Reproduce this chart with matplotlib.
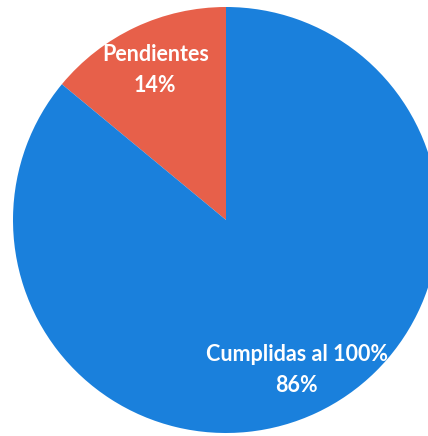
import matplotlib.pyplot as plt

# datos del grafico
categorias = ["Pendientes", "Cumplidas al 100%"]
porcentajes = [14, 86]
colores = ["#E7604A", "#1A80DC"]

etiquetas = [c + "\n" + str(p) + "%" for c, p in zip(categorias, porcentajes)]

fig = plt.figure(figsize=(4.28, 4.36), dpi=100)
ax = fig.add_axes([0, 0, 1, 1])

ax.pie(
    porcentajes,
    labels=etiquetas,
    colors=colores,
    startangle=90,
    counterclock=True,
    center=(226, 216),
    radius=213,
    labeldistance=0.78,
    wedgeprops={"linewidth": 0},
    textprops={
        "color": "white",
        "fontsize": 15.5,
        "fontweight": "bold",
        "family": ["Lato", "DejaVu Sans"],
        "ha": "center",
        "va": "center",
        "multialignment": "center",
        "linespacing": 1.6,
    },
)
ax.set_xlim(0, 428)
ax.set_ylim(0, 436)
ax.set_aspect("equal")
ax.axis("off")

plt.savefig("out.png", dpi=100)
plt.close()
